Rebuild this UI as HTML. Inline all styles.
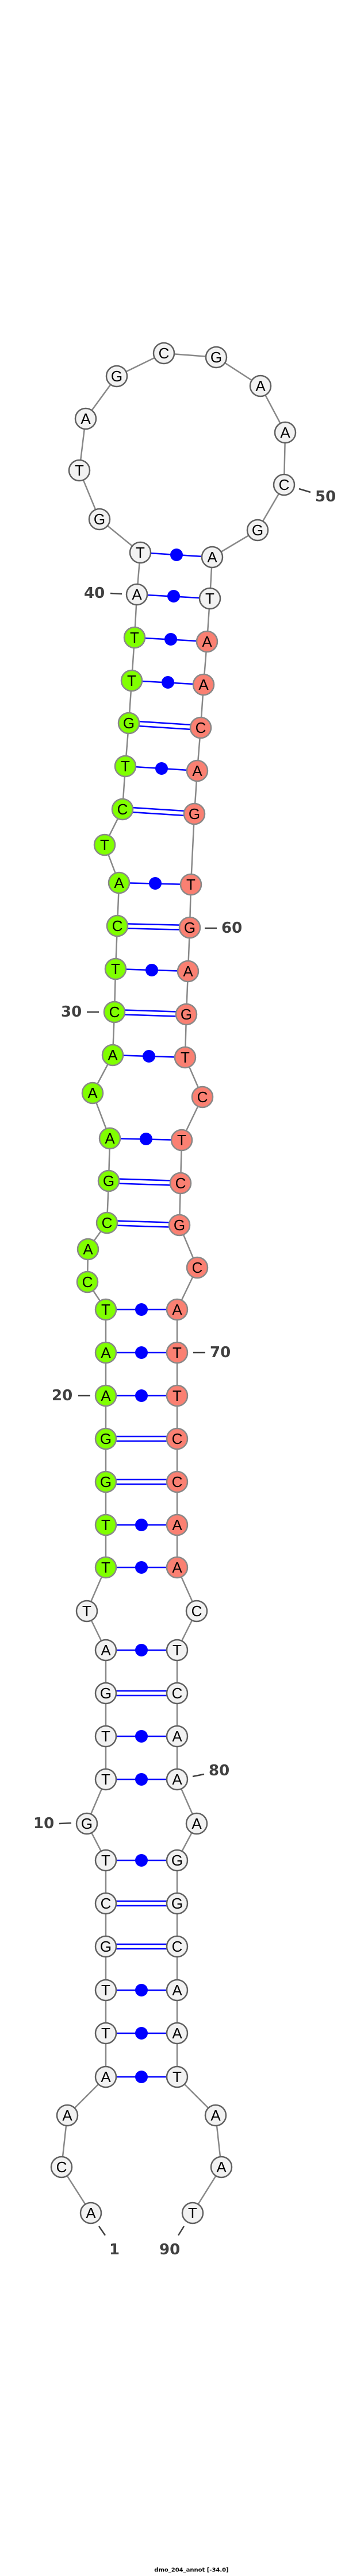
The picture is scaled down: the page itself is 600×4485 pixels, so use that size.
<!DOCTYPE html>
<html><head><meta charset="utf-8"><style>
html,body{margin:0;padding:0;background:#fff}
svg{display:block}
.n{font-family:"Liberation Sans",sans-serif;font-size:26px;text-anchor:middle;dominant-baseline:central;fill:#000}
.l{font-family:"DejaVu Sans","Liberation Sans",sans-serif;font-weight:bold;font-size:26px;fill:#404040;dominant-baseline:central}
.w{fill:#f2f2f2;stroke:#606060;stroke-width:2.5}
.g{fill:#80ff00;stroke:#888;stroke-width:2.5}
.s{fill:#fa8072;stroke:#888;stroke-width:2.5}
.p{stroke:#0000ff;stroke-width:2.5}
</style></head><body>
<svg width="600" height="4485" viewBox="0 0 600 4485" xmlns="http://www.w3.org/2000/svg">
<polyline fill="none" stroke="#888" stroke-width="2.5" points="158,3853 107,3773 117,3683 184,3616 184,3540 184,3465 184,3389 184,3314 184,3239 151,3175 184,3098 184,3023 184,2948 184,2873 151,2805 184,2729 184,2653 184,2580 184,2505 184,2430 184,2355 184,2280 152,2232 153,2175 186,2129 189,2056 191,1982 161,1903 196,1837 199,1762 201,1687 204,1612 207,1537 182,1471 213,1409 218,1334 224,1259 229,1185 234,1110 238,1035 244,962 173,904 138,819 149,729 203,655 285,615 376,622 453,672 496,753 494,844 448,923 369,970 365,1042 360,1117 354,1192 349,1267 343,1342 338,1417 332,1540 330,1615 327,1691 324,1766 322,1841 352,1910 316,1985 314,2060 312,2133 343,2207 308,2280 308,2355 308,2430 308,2505 308,2580 308,2655 308,2729 342,2805 308,2873 308,2948 308,3023 308,3098 342,3175 308,3239 308,3314 308,3389 308,3465 308,3540 308,3616 375,3683 385,3773 335,3853"/>
<g class="p">
<line x1="244" y1="962" x2="369" y2="970"/><circle cx="307" cy="966" r="11" fill="#00f" stroke="none"/>
<line x1="238" y1="1035" x2="365" y2="1042"/><circle cx="302" cy="1038" r="11" fill="#00f" stroke="none"/>
<line x1="234" y1="1110" x2="360" y2="1117"/><circle cx="297" cy="1113" r="11" fill="#00f" stroke="none"/>
<line x1="229" y1="1185" x2="354" y2="1192"/><circle cx="292" cy="1188" r="11" fill="#00f" stroke="none"/>
<line x1="224" y1="1255" x2="349" y2="1263"/><line x1="224" y1="1263" x2="349" y2="1271"/>
<line x1="218" y1="1334" x2="343" y2="1342"/><circle cx="281" cy="1338" r="11" fill="#00f" stroke="none"/>
<line x1="213" y1="1405" x2="338" y2="1413"/><line x1="213" y1="1413" x2="338" y2="1421"/>
<line x1="207" y1="1537" x2="332" y2="1540"/><circle cx="270" cy="1538" r="11" fill="#00f" stroke="none"/>
<line x1="204" y1="1608" x2="330" y2="1611"/><line x1="204" y1="1616" x2="330" y2="1619"/>
<line x1="201" y1="1687" x2="327" y2="1691"/><circle cx="264" cy="1689" r="11" fill="#00f" stroke="none"/>
<line x1="199" y1="1758" x2="324" y2="1762"/><line x1="199" y1="1766" x2="324" y2="1770"/>
<line x1="196" y1="1837" x2="322" y2="1841"/><circle cx="259" cy="1839" r="11" fill="#00f" stroke="none"/>
<line x1="191" y1="1982" x2="316" y2="1985"/><circle cx="254" cy="1983" r="11" fill="#00f" stroke="none"/>
<line x1="189" y1="2052" x2="314" y2="2056"/><line x1="189" y1="2060" x2="314" y2="2064"/>
<line x1="186" y1="2125" x2="312" y2="2129"/><line x1="186" y1="2133" x2="312" y2="2137"/>
<line x1="184" y1="2280" x2="308" y2="2280"/><circle cx="246" cy="2280" r="11" fill="#00f" stroke="none"/>
<line x1="184" y1="2355" x2="308" y2="2355"/><circle cx="246" cy="2355" r="11" fill="#00f" stroke="none"/>
<line x1="184" y1="2430" x2="308" y2="2430"/><circle cx="246" cy="2430" r="11" fill="#00f" stroke="none"/>
<line x1="184" y1="2501" x2="308" y2="2501"/><line x1="184" y1="2509" x2="308" y2="2509"/>
<line x1="184" y1="2576" x2="308" y2="2576"/><line x1="184" y1="2584" x2="308" y2="2584"/>
<line x1="184" y1="2655" x2="308" y2="2655"/><circle cx="246" cy="2655" r="11" fill="#00f" stroke="none"/>
<line x1="184" y1="2729" x2="308" y2="2729"/><circle cx="246" cy="2729" r="11" fill="#00f" stroke="none"/>
<line x1="184" y1="2873" x2="308" y2="2873"/><circle cx="246" cy="2873" r="11" fill="#00f" stroke="none"/>
<line x1="184" y1="2944" x2="308" y2="2944"/><line x1="184" y1="2952" x2="308" y2="2952"/>
<line x1="184" y1="3023" x2="308" y2="3023"/><circle cx="246" cy="3023" r="11" fill="#00f" stroke="none"/>
<line x1="184" y1="3098" x2="308" y2="3098"/><circle cx="246" cy="3098" r="11" fill="#00f" stroke="none"/>
<line x1="184" y1="3239" x2="308" y2="3239"/><circle cx="246" cy="3239" r="11" fill="#00f" stroke="none"/>
<line x1="184" y1="3310" x2="308" y2="3310"/><line x1="184" y1="3318" x2="308" y2="3318"/>
<line x1="184" y1="3385" x2="308" y2="3385"/><line x1="184" y1="3393" x2="308" y2="3393"/>
<line x1="184" y1="3465" x2="308" y2="3465"/><circle cx="246" cy="3465" r="11" fill="#00f" stroke="none"/>
<line x1="184" y1="3540" x2="308" y2="3540"/><circle cx="246" cy="3540" r="11" fill="#00f" stroke="none"/>
<line x1="184" y1="3616" x2="308" y2="3616"/><circle cx="246" cy="3616" r="11" fill="#00f" stroke="none"/>
</g>
<g>
<circle class="w" cx="158" cy="3853" r="18"/><text class="n" x="158" y="3853">A</text>
<circle class="w" cx="107" cy="3773" r="18"/><text class="n" x="107" y="3773">C</text>
<circle class="w" cx="117" cy="3683" r="18"/><text class="n" x="117" y="3683">A</text>
<circle class="w" cx="184" cy="3616" r="18"/><text class="n" x="184" y="3616">A</text>
<circle class="w" cx="184" cy="3540" r="18"/><text class="n" x="184" y="3540">T</text>
<circle class="w" cx="184" cy="3465" r="18"/><text class="n" x="184" y="3465">T</text>
<circle class="w" cx="184" cy="3389" r="18"/><text class="n" x="184" y="3389">G</text>
<circle class="w" cx="184" cy="3314" r="18"/><text class="n" x="184" y="3314">C</text>
<circle class="w" cx="184" cy="3239" r="18"/><text class="n" x="184" y="3239">T</text>
<circle class="w" cx="151" cy="3175" r="18"/><text class="n" x="151" y="3175">G</text>
<circle class="w" cx="184" cy="3098" r="18"/><text class="n" x="184" y="3098">T</text>
<circle class="w" cx="184" cy="3023" r="18"/><text class="n" x="184" y="3023">T</text>
<circle class="w" cx="184" cy="2948" r="18"/><text class="n" x="184" y="2948">G</text>
<circle class="w" cx="184" cy="2873" r="18"/><text class="n" x="184" y="2873">A</text>
<circle class="w" cx="151" cy="2805" r="18"/><text class="n" x="151" y="2805">T</text>
<circle class="g" cx="184" cy="2729" r="18"/><text class="n" x="184" y="2729">T</text>
<circle class="g" cx="184" cy="2655" r="18"/><text class="n" x="184" y="2655">T</text>
<circle class="g" cx="184" cy="2580" r="18"/><text class="n" x="184" y="2580">G</text>
<circle class="g" cx="184" cy="2505" r="18"/><text class="n" x="184" y="2505">G</text>
<circle class="g" cx="184" cy="2430" r="18"/><text class="n" x="184" y="2430">A</text>
<circle class="g" cx="184" cy="2355" r="18"/><text class="n" x="184" y="2355">A</text>
<circle class="g" cx="184" cy="2280" r="18"/><text class="n" x="184" y="2280">T</text>
<circle class="g" cx="152" cy="2232" r="18"/><text class="n" x="152" y="2232">C</text>
<circle class="g" cx="153" cy="2175" r="18"/><text class="n" x="153" y="2175">A</text>
<circle class="g" cx="186" cy="2129" r="18"/><text class="n" x="186" y="2129">C</text>
<circle class="g" cx="189" cy="2056" r="18"/><text class="n" x="189" y="2056">G</text>
<circle class="g" cx="191" cy="1982" r="18"/><text class="n" x="191" y="1982">A</text>
<circle class="g" cx="161" cy="1903" r="18"/><text class="n" x="161" y="1903">A</text>
<circle class="g" cx="196" cy="1837" r="18"/><text class="n" x="196" y="1837">A</text>
<circle class="g" cx="199" cy="1762" r="18"/><text class="n" x="199" y="1762">C</text>
<circle class="g" cx="201" cy="1687" r="18"/><text class="n" x="201" y="1687">T</text>
<circle class="g" cx="204" cy="1612" r="18"/><text class="n" x="204" y="1612">C</text>
<circle class="g" cx="207" cy="1537" r="18"/><text class="n" x="207" y="1537">A</text>
<circle class="g" cx="182" cy="1471" r="18"/><text class="n" x="182" y="1471">T</text>
<circle class="g" cx="213" cy="1409" r="18"/><text class="n" x="213" y="1409">C</text>
<circle class="g" cx="218" cy="1334" r="18"/><text class="n" x="218" y="1334">T</text>
<circle class="g" cx="224" cy="1259" r="18"/><text class="n" x="224" y="1259">G</text>
<circle class="g" cx="229" cy="1185" r="18"/><text class="n" x="229" y="1185">T</text>
<circle class="g" cx="234" cy="1110" r="18"/><text class="n" x="234" y="1110">T</text>
<circle class="w" cx="238" cy="1035" r="18"/><text class="n" x="238" y="1035">A</text>
<circle class="w" cx="244" cy="962" r="18"/><text class="n" x="244" y="962">T</text>
<circle class="w" cx="173" cy="904" r="18"/><text class="n" x="173" y="904">G</text>
<circle class="w" cx="138" cy="819" r="18"/><text class="n" x="138" y="819">T</text>
<circle class="w" cx="149" cy="729" r="18"/><text class="n" x="149" y="729">A</text>
<circle class="w" cx="203" cy="655" r="18"/><text class="n" x="203" y="655">G</text>
<circle class="w" cx="285" cy="615" r="18"/><text class="n" x="285" y="615">C</text>
<circle class="w" cx="376" cy="622" r="18"/><text class="n" x="376" y="622">G</text>
<circle class="w" cx="453" cy="672" r="18"/><text class="n" x="453" y="672">A</text>
<circle class="w" cx="496" cy="753" r="18"/><text class="n" x="496" y="753">A</text>
<circle class="w" cx="494" cy="844" r="18"/><text class="n" x="494" y="844">C</text>
<circle class="w" cx="448" cy="923" r="18"/><text class="n" x="448" y="923">G</text>
<circle class="w" cx="369" cy="970" r="18"/><text class="n" x="369" y="970">A</text>
<circle class="w" cx="365" cy="1042" r="18"/><text class="n" x="365" y="1042">T</text>
<circle class="s" cx="360" cy="1117" r="18"/><text class="n" x="360" y="1117">A</text>
<circle class="s" cx="354" cy="1192" r="18"/><text class="n" x="354" y="1192">A</text>
<circle class="s" cx="349" cy="1267" r="18"/><text class="n" x="349" y="1267">C</text>
<circle class="s" cx="343" cy="1342" r="18"/><text class="n" x="343" y="1342">A</text>
<circle class="s" cx="338" cy="1417" r="18"/><text class="n" x="338" y="1417">G</text>
<circle class="s" cx="332" cy="1540" r="18"/><text class="n" x="332" y="1540">T</text>
<circle class="s" cx="330" cy="1615" r="18"/><text class="n" x="330" y="1615">G</text>
<circle class="s" cx="327" cy="1691" r="18"/><text class="n" x="327" y="1691">A</text>
<circle class="s" cx="324" cy="1766" r="18"/><text class="n" x="324" y="1766">G</text>
<circle class="s" cx="322" cy="1841" r="18"/><text class="n" x="322" y="1841">T</text>
<circle class="s" cx="352" cy="1910" r="18"/><text class="n" x="352" y="1910">C</text>
<circle class="s" cx="316" cy="1985" r="18"/><text class="n" x="316" y="1985">T</text>
<circle class="s" cx="314" cy="2060" r="18"/><text class="n" x="314" y="2060">C</text>
<circle class="s" cx="312" cy="2133" r="18"/><text class="n" x="312" y="2133">G</text>
<circle class="s" cx="343" cy="2207" r="18"/><text class="n" x="343" y="2207">C</text>
<circle class="s" cx="308" cy="2280" r="18"/><text class="n" x="308" y="2280">A</text>
<circle class="s" cx="308" cy="2355" r="18"/><text class="n" x="308" y="2355">T</text>
<circle class="s" cx="308" cy="2430" r="18"/><text class="n" x="308" y="2430">T</text>
<circle class="s" cx="308" cy="2505" r="18"/><text class="n" x="308" y="2505">C</text>
<circle class="s" cx="308" cy="2580" r="18"/><text class="n" x="308" y="2580">C</text>
<circle class="s" cx="308" cy="2655" r="18"/><text class="n" x="308" y="2655">A</text>
<circle class="s" cx="308" cy="2729" r="18"/><text class="n" x="308" y="2729">A</text>
<circle class="w" cx="342" cy="2805" r="18"/><text class="n" x="342" y="2805">C</text>
<circle class="w" cx="308" cy="2873" r="18"/><text class="n" x="308" y="2873">T</text>
<circle class="w" cx="308" cy="2948" r="18"/><text class="n" x="308" y="2948">C</text>
<circle class="w" cx="308" cy="3023" r="18"/><text class="n" x="308" y="3023">A</text>
<circle class="w" cx="308" cy="3098" r="18"/><text class="n" x="308" y="3098">A</text>
<circle class="w" cx="342" cy="3175" r="18"/><text class="n" x="342" y="3175">A</text>
<circle class="w" cx="308" cy="3239" r="18"/><text class="n" x="308" y="3239">G</text>
<circle class="w" cx="308" cy="3314" r="18"/><text class="n" x="308" y="3314">G</text>
<circle class="w" cx="308" cy="3389" r="18"/><text class="n" x="308" y="3389">C</text>
<circle class="w" cx="308" cy="3465" r="18"/><text class="n" x="308" y="3465">A</text>
<circle class="w" cx="308" cy="3540" r="18"/><text class="n" x="308" y="3540">A</text>
<circle class="w" cx="308" cy="3616" r="18"/><text class="n" x="308" y="3616">T</text>
<circle class="w" cx="375" cy="3683" r="18"/><text class="n" x="375" y="3683">A</text>
<circle class="w" cx="385" cy="3773" r="18"/><text class="n" x="385" y="3773">A</text>
<circle class="w" cx="335" cy="3853" r="18"/><text class="n" x="335" y="3853">T</text>
</g>
<g stroke="#404040" stroke-width="2.5">
<line x1="172" y1="3876" x2="183" y2="3892"/>
<line x1="320" y1="3876" x2="310" y2="3892"/>
<line x1="103" y1="3175" x2="124" y2="3174"/>
<line x1="335" y1="3093" x2="355" y2="3089"/>
<line x1="136" y1="2430" x2="157" y2="2430"/>
<line x1="336" y1="2355" x2="357" y2="2355"/>
<line x1="151" y1="1762" x2="172" y2="1762"/>
<line x1="356" y1="1616" x2="377" y2="1616"/>
<line x1="192" y1="1033" x2="212" y2="1034"/>
<line x1="520" y1="851" x2="540" y2="857"/>
</g>
<g class="l">
<text x="190" y="3917">1</text>
<text x="277" y="3917">90</text>
<text x="58" y="3175">10</text>
<text x="363" y="3083">80</text>
<text x="90" y="2430">20</text>
<text x="365" y="2355">70</text>
<text x="106" y="1762">30</text>
<text x="385" y="1616">60</text>
<text x="146" y="1033">40</text>
<text x="548" y="865">50</text>
</g>
<text x="333" y="4475" font-family="DejaVu Sans, Liberation Sans, sans-serif" font-weight="bold" font-size="10" text-anchor="middle" dominant-baseline="central" fill="#000">dmo_204_annot [-34.0]</text>
</svg>
</body></html>
